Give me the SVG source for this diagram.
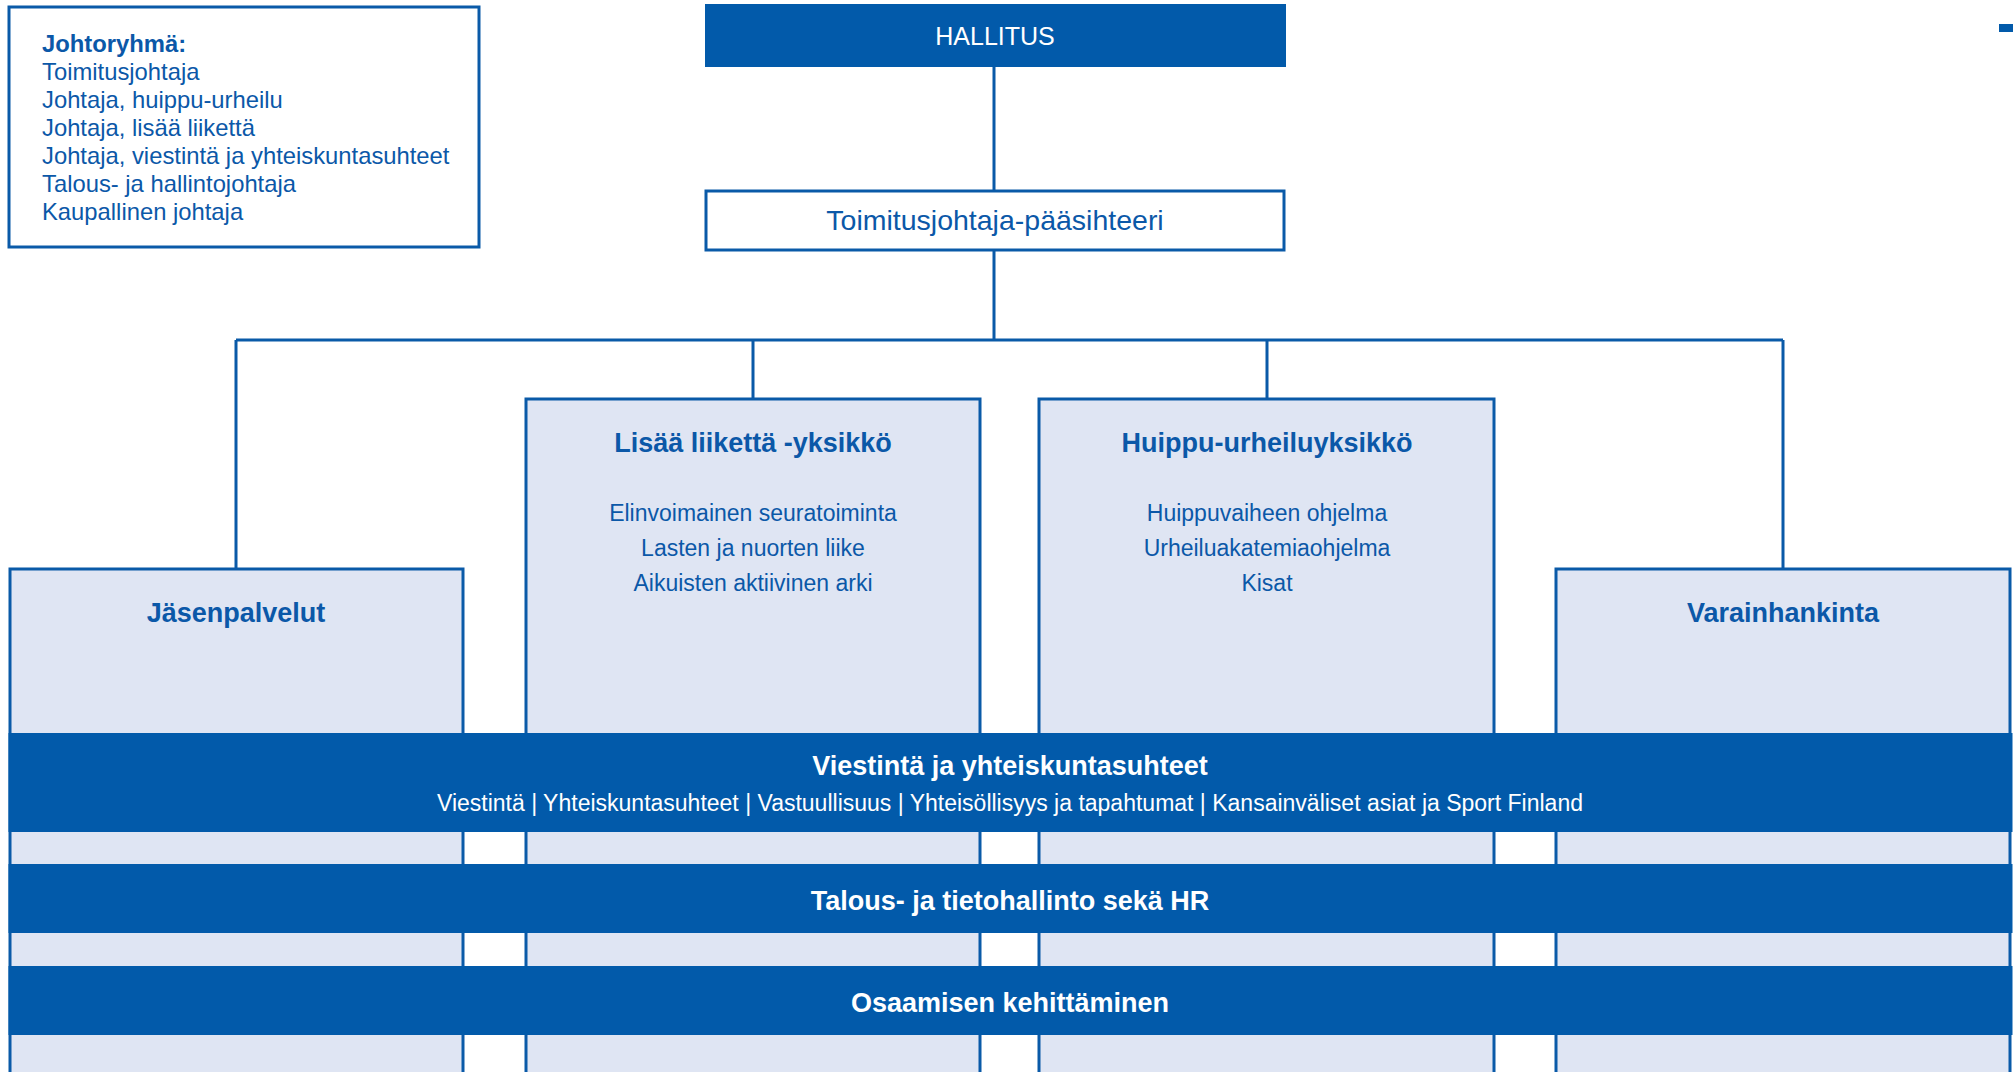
<svg xmlns="http://www.w3.org/2000/svg" width="2013" height="1072" viewBox="0 0 2013 1072">
<style>
text{font-family:"Liberation Sans",Arial,sans-serif;fill:#0b58a8}
.c{text-anchor:middle}
.b{font-weight:bold}
.w{fill:#ffffff}
.unit{fill:#dfe5f3;stroke:#0a5aa8;stroke-width:3}
.band{fill:#025aaa}
.conn{fill:none;stroke:#0a5aa8;stroke-width:3}
.t27{font-size:27px}
.t23{font-size:23px}
.jr{font-size:23.8px}
</style>
<rect width="2013" height="1072" fill="#ffffff"/>
<g id="connectors">
<path class="conn" d="M994 67V191M994 250V340M236 340H1783M236 340V569M753 340V399M1267 340V399M1783 340V569"/>
</g>
<g id="johtoryhma">
<rect x="9" y="7" width="470" height="240" fill="#ffffff" stroke="#0a5aa8" stroke-width="3"/>
<text x="42" y="52" class="b jr">Johtoryhmä:</text>
<text x="42" y="80" class="jr">Toimitusjohtaja</text>
<text x="42" y="108" class="jr">Johtaja, huippu-urheilu</text>
<text x="42" y="136" class="jr">Johtaja, lisää liikettä</text>
<text x="42" y="164" class="jr">Johtaja, viestintä ja yhteiskuntasuhteet</text>
<text x="42" y="192" class="jr">Talous- ja hallintojohtaja</text>
<text x="42" y="220" class="jr">Kaupallinen johtaja</text>
</g>
<g id="hallitus">
<rect x="705" y="4" width="581" height="63" fill="#025aaa"/>
<text x="995" y="45" class="c w" font-size="25">HALLITUS</text>
</g>
<g id="toimitusjohtaja">
<rect x="706" y="191" width="578" height="59" fill="#ffffff" stroke="#0a5aa8" stroke-width="3"/>
<text x="995" y="230" class="c" font-size="28.5">Toimitusjohtaja-pääsihteeri</text>
</g>
<g id="jasenpalvelut">
<rect class="unit" x="10" y="569" width="453" height="510"/>
<text x="236" y="622" class="c b t27">Jäsenpalvelut</text>
</g>
<g id="lisaa-liiketta">
<rect class="unit" x="526" y="399" width="454" height="680"/>
<text x="753" y="452" class="c b t27">Lisää liikettä -yksikkö</text>
<text x="753" y="521" class="c t23">Elinvoimainen seuratoiminta</text>
<text x="753" y="556" class="c t23">Lasten ja nuorten liike</text>
<text x="753" y="591" class="c t23">Aikuisten aktiivinen arki</text>
</g>
<g id="huippu-urheilu">
<rect class="unit" x="1039" y="399" width="455" height="680"/>
<text x="1267" y="452" class="c b t27">Huippu-urheiluyksikkö</text>
<text x="1267" y="521" class="c t23">Huippuvaiheen ohjelma</text>
<text x="1267" y="556" class="c t23">Urheiluakatemiaohjelma</text>
<text x="1267" y="591" class="c t23">Kisat</text>
</g>
<g id="varainhankinta">
<rect class="unit" x="1556" y="569" width="454" height="510"/>
<text x="1783" y="622" class="c b t27">Varainhankinta</text>
</g>
<g id="viestinta">
<rect class="band" x="8.5" y="733" width="2004" height="99"/>
<text x="1010" y="775" class="c b w t27">Viestintä ja yhteiskuntasuhteet</text>
<text x="1010" y="811" class="c w t23">Viestintä | Yhteiskuntasuhteet | Vastuullisuus | Yhteisöllisyys ja tapahtumat | Kansainväliset asiat ja Sport Finland</text>
</g>
<g id="talous">
<rect class="band" x="8.5" y="864" width="2004" height="69"/>
<text x="1010" y="910" class="c b w t27">Talous- ja tietohallinto sekä HR</text>
</g>
<g id="osaaminen">
<rect class="band" x="8.5" y="966" width="2004" height="69"/>
<text x="1010" y="1012" class="c b w t27">Osaamisen kehittäminen</text>
</g>
<rect x="1999" y="24" width="14" height="8" fill="#025aaa"/>
</svg>
